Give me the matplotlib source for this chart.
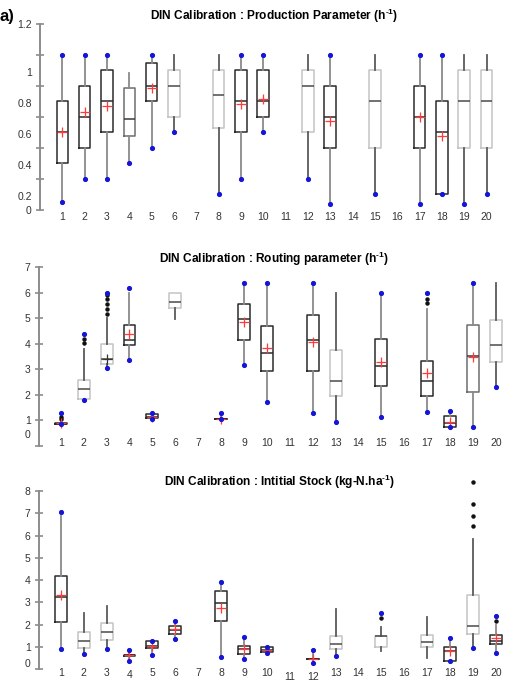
import matplotlib
matplotlib.use("Agg")
import matplotlib.pyplot as plt

plt.rcParams['font.family'] = ['Liberation Sans', 'DejaVu Sans']
plt.rcParams['mathtext.fontset'] = 'custom'
plt.rcParams['mathtext.rm'] = 'Liberation Sans:bold'
plt.rcParams['mathtext.it'] = 'Liberation Sans:bold'
plt.rcParams['mathtext.bf'] = 'Liberation Sans:bold'

categories = list(range(1, 21))
N = None

# ---------- Panel 1: Production parameter ----------
p_whislo = [0.05, 0.20, 0.20, 0.30, 0.40, 0.50, N, 0.10, 0.20, 0.50, N, 0.20, 0.04, N, 0.10, N, 0.04, 0.10, 0.04, 0.10]
p_q1     = [0.30, 0.40, 0.50, 0.48, 0.70, 0.60, N, 0.53, 0.50, 0.60, N, 0.50, 0.40, N, 0.40, N, 0.40, 0.10, 0.40, 0.40]
p_med    = [0.50, 0.60, 0.70, 0.585, 0.80, 0.80, N, 0.745, 0.70, 0.70, N, 0.80, 0.60, N, 0.70, N, 0.60, 0.50, 0.70, 0.70]
p_q3     = [0.70, 0.80, 0.90, 0.785, 0.95, 0.90, N, 0.90, 0.90, 0.90, N, 0.90, 0.80, N, 0.90, N, 0.80, 0.70, 0.90, 0.90]
p_whishi = [1.00, 1.00, 1.00, 0.886, 1.00, 1.00, N, 1.00, 1.00, 1.00, N, 1.00, 1.00, N, 1.00, N, 1.00, 1.00, 1.00, 1.00]
p_mean   = [0.50, 0.63, 0.67, N, 0.785, N, N, N, 0.685, 0.715, N, N, 0.575, N, N, N, 0.60, 0.48, N, N]
p_fliers = [[] for _ in range(20)]
p_dots   = [[0.05, 1.0], [0.2, 1.0], [0.2, 1.0], [0.3], [0.4, 1.0], [0.5], [], [0.1], [0.2, 1.0], [0.5, 1.0],
            [], [0.2], [0.04, 1.0], [], [0.1], [], [0.04, 1.0], [0.1, 1.0], [0.04], [0.1]]
p_yticks = [0, 0.2, 0.4, 0.6, 0.8, 1.0, 1.2]
p_ylabels = ['0', '0.2', '0.4', '0.6', '0.8', '1', '1.2']
p_ylabel_pos = [0.0, 0.09, 0.29, 0.49, 0.69, 0.89, 1.2]

# ---------- Panel 2: Routing parameter ----------
r_whislo = [0.85, 1.80, 3.07, 3.37, 1.05, 4.96, N, 1.03, 3.16, 1.74, N, 1.30, 0.93, N, 1.15, N, 1.34, 0.73, 0.73, 2.32]
r_q1     = [0.86, 1.83, 3.21, 3.96, 1.08, 5.40, N, 1.04, 4.15, 2.95, N, 2.94, 1.97, N, 2.36, N, 1.96, 0.73, 2.13, 3.30]
r_med    = [0.87, 2.22, 3.40, 4.15, 1.15, 5.64, N, 1.05, 4.96, 3.65, N, 4.15, 2.53, N, 3.15, N, 2.56, 0.90, 3.53, 3.94]
r_q3     = [0.90, 2.58, 4.00, 4.75, 1.25, 6.00, N, 1.06, 5.55, 4.70, N, 5.14, 3.76, N, 4.18, N, 3.34, 1.18, 4.74, 4.94]
r_whishi = [0.95, 3.79, 5.00, 6.00, 1.28, 6.00, N, 1.28, 6.38, 6.38, N, 6.38, 5.98, N, 6.00, N, 5.35, 1.37, 6.38, 6.38]
r_mean   = [0.92, N, 3.40, 4.39, 1.15, N, N, 1.05, 4.87, 3.83, N, 4.06, N, N, 3.28, N, 2.85, 0.93, 3.50, N]
r_fliers = [[1.05, 1.12], [4.02, 4.20], [5.17, 5.36, 5.55, 5.74, 5.90], [], [], [], [], [], [], [],
            [], [], [], [], [], [], [5.60, 5.77], [], [], []]
r_dots   = [[0.85, 1.28], [1.8, 4.39], [3.07, 6.0], [3.37, 6.18], [1.05, 1.28], [], [], [1.05, 1.28], [3.16, 6.38], [1.74, 6.38],
            [], [1.3, 6.38], [0.93], [], [1.15, 6.0], [], [1.34, 6.0], [0.73, 1.37], [0.73, 6.38], [2.32]]
r_yticks = [0, 1, 2, 3, 4, 5, 6, 7]
r_ylabels = ['0', '1', '2', '3', '4', '5', '6', '7']
r_ylabel_pos = [0.47, 1, 2, 3, 4, 5, 6, 7]

# ---------- Panel 3: Initial stock ----------
s_whislo = [0.91, 0.67, 0.91, 0.38, 0.64, 1.36, N, 0.57, 0.45, 0.74, N, 0.29, 0.60, N, 0.80, N, 0.49, 0.39, 0.95, 0.74]
s_q1     = [2.12, 0.94, 1.30, 0.60, 0.95, 1.57, N, 2.17, 0.69, 0.76, N, 0.44, 0.90, N, 1.01, N, 1.01, 0.39, 1.57, 1.15]
s_med    = [3.24, 1.28, 1.69, 0.62, 1.05, 1.76, N, 2.96, 0.91, 0.87, N, 0.46, 1.12, N, 1.48, N, 1.22, 0.80, 1.96, 1.28]
s_q3     = [4.18, 1.69, 2.06, 0.65, 1.27, 1.96, N, 3.51, 1.06, 0.99, N, 0.48, 1.51, N, 1.48, N, 1.52, 1.01, 3.32, 1.54]
s_whishi = [6.87, 2.51, 2.85, 0.88, 1.28, 2.18, N, 3.93, 1.46, 1.01, N, 0.85, 2.70, N, 1.91, N, 2.33, 1.42, 5.83, 1.99]
s_mean   = [3.33, N, N, 0.62, 1.04, 1.81, N, 2.76, 0.91, 0.87, N, 0.46, N, N, N, N, N, 0.83, N, 1.39]
s_fliers = [[], [], [], [], [], [], [], [], [], [],
            [], [], [], [], [2.31], [], [], [], [6.41, 6.90, 7.41, 8.41], [2.17]]
s_dots   = [[0.91, 7.07], [0.67], [0.91], [0.38, 0.88], [0.64, 1.28], [1.36, 2.18], [], [0.57, 3.93], [0.45, 1.46], [0.74, 1.01],
            [], [0.29, 0.85], [0.6], [], [2.54], [], [], [0.39, 1.42], [0.95], [0.74, 2.39]]
s_yticks = [0, 1, 2, 3, 4, 5, 6, 7, 8]
s_ylabels = ['0', '1', '2', '3', '4', '5', '6', '7', '8']
s_ylabel_pos = [0.27, 1, 2, 3, 4, 5, 6, 7, 8]

titles = ['DIN Calibration : Production Parameter (h$^{\u20101}$)',
          'DIN Calibration : Routing parameter (h$^{\u20101}$)',
          'DIN Calibration : Intitial Stock (kg-N.ha$^{\u20101}$)']

# style per box: d = dark box, g = grey box, l = light box
p_style = 'dddgdl-ldd-ld-l-ddll'
r_style = 'dllddl-ddd-dl-d-ddgl'
s_style = 'dllddd-ddd-dl-l-ldld'

W, H = 511, 682
fig = plt.figure(figsize=(W / 100, H / 100), dpi=100)


def frac_axes(left_px, bottom_px, right_px, top_px):
    return fig.add_axes([left_px / W, 1 - bottom_px / H, (right_px - left_px) / W, (bottom_px - top_px) / H])


STY = {
    'd': dict(box='#2b2b2b', med='#2b2b2b', wh='#8a8a8a'),
    'g': dict(box='#6e6e6e', med='#3a3a3a', wh='#8a8a8a'),
    'l': dict(box='#c4c4c4', med='#4a4a4a', wh='#5a5a5a'),
}


def draw_panel(ax, whislo, q1, med, q3, whishi, means, fliers, dots, style):
    for i, c in enumerate(categories):
        if whislo[i] is None:
            continue
        st = STY[style[i]]
        stats = dict(med=med[i], q1=q1[i], q3=q3[i], whislo=whislo[i], whishi=whishi[i],
                     fliers=fliers[i], label=str(c))
        ax.bxp([stats], positions=[c], widths=0.52, showcaps=False, showfliers=True,
               boxprops=dict(color=st['box'], lw=1.1),
               medianprops=dict(color=st['med'], lw=1.1),
               whiskerprops=dict(color=st['wh'], lw=1.3),
               flierprops=dict(marker='o', ms=2.2, mfc='#111111', mec='#111111'),
               manage_ticks=False)
        if means[i] is not None:
            mc = '#ff3b3b' if style[i] != 'l' else '#333333'
            ax.plot([c], [means[i]], '+', color=mc, ms=7, mew=0.9, zorder=4, clip_on=False)
        if dots[i]:
            ax.plot([c] * len(dots[i]), dots[i], 'o', color='#1515d8', ms=2.7, zorder=5, clip_on=False)


def style_axes(ax, yticks, ylabels, ylabel_pos, xlim, ylim, xpad):
    ax.set_xlim(*xlim)
    ax.set_ylim(*ylim)
    for s in ['top', 'right', 'bottom']:
        ax.spines[s].set_visible(False)
    ax.spines['left'].set_color('#8c8c8c')
    ax.spines['left'].set_linewidth(1.4)
    ax.spines['left'].set_bounds(yticks[0], yticks[-1])
    ax.set_yticks(yticks, [''] * len(yticks))
    ax.yaxis.remove_overlapping_locs = False
    ax.set_yticks(ylabel_pos, ylabels, minor=True)
    ax.tick_params(axis='y', which='major', direction='inout', length=6, width=1.2, color='#8c8c8c')
    ax.tick_params(axis='y', which='minor', length=0, pad=6, labelsize=7.5, labelcolor='#333333')
    ax.set_xticks(categories, [str(c) for c in categories])
    ax.tick_params(axis='x', length=0, pad=xpad, labelsize=7.5, labelcolor='#333333')
    ax.set_facecolor('none')


# Panel 1
ax1 = frac_axes(40, 210, 500, 24)
draw_panel(ax1, p_whislo, p_q1, p_med, p_q3, p_whishi, p_mean, p_fliers, p_dots, p_style)
style_axes(ax1, p_yticks, p_ylabels, p_ylabel_pos, (0, 20.6), (0, 1.2), 1.5)

# Panel 2
ax2 = frac_axes(39, 446, 508.5, 267.3)
draw_panel(ax2, r_whislo, r_q1, r_med, r_q3, r_whishi, r_mean, r_fliers, r_dots, r_style)
style_axes(ax2, r_yticks, r_ylabels, r_ylabel_pos, (0.05, 20.55), (0, 7), -6)

# Panel 3
top3 = 669.3 - 178.3 * 8.6 / 8
ax3 = frac_axes(39, 669.3, 508.5, top3)
draw_panel(ax3, s_whislo, s_q1, s_med, s_q3, s_whishi, s_mean, s_fliers, s_dots, s_style)
style_axes(ax3, s_yticks, s_ylabels, s_ylabel_pos, (0.05, 20.55), (0, 8.6), -1.2)
for i, t in enumerate(ax3.xaxis.get_major_ticks()):
    if categories[i] in (11, 12):
        t.set_pad(2.0)
    elif categories[i] == 4:
        t.set_pad(0.2)

fig.text(274 / W, 1 - 16 / H, titles[0], ha='center', va='center', fontsize=8.6, fontweight='bold')
fig.text(274 / W, 1 - 259 / H, titles[1], ha='center', va='center', fontsize=8.6, fontweight='bold')
fig.text(279 / W, 1 - 482 / H, titles[2], ha='center', va='center', fontsize=8.6, fontweight='bold')
fig.text(0 / W, 1 - 16 / H, 'a)', ha='left', va='center', fontsize=12, fontweight='bold')

fig.savefig('out.png', dpi=100)
